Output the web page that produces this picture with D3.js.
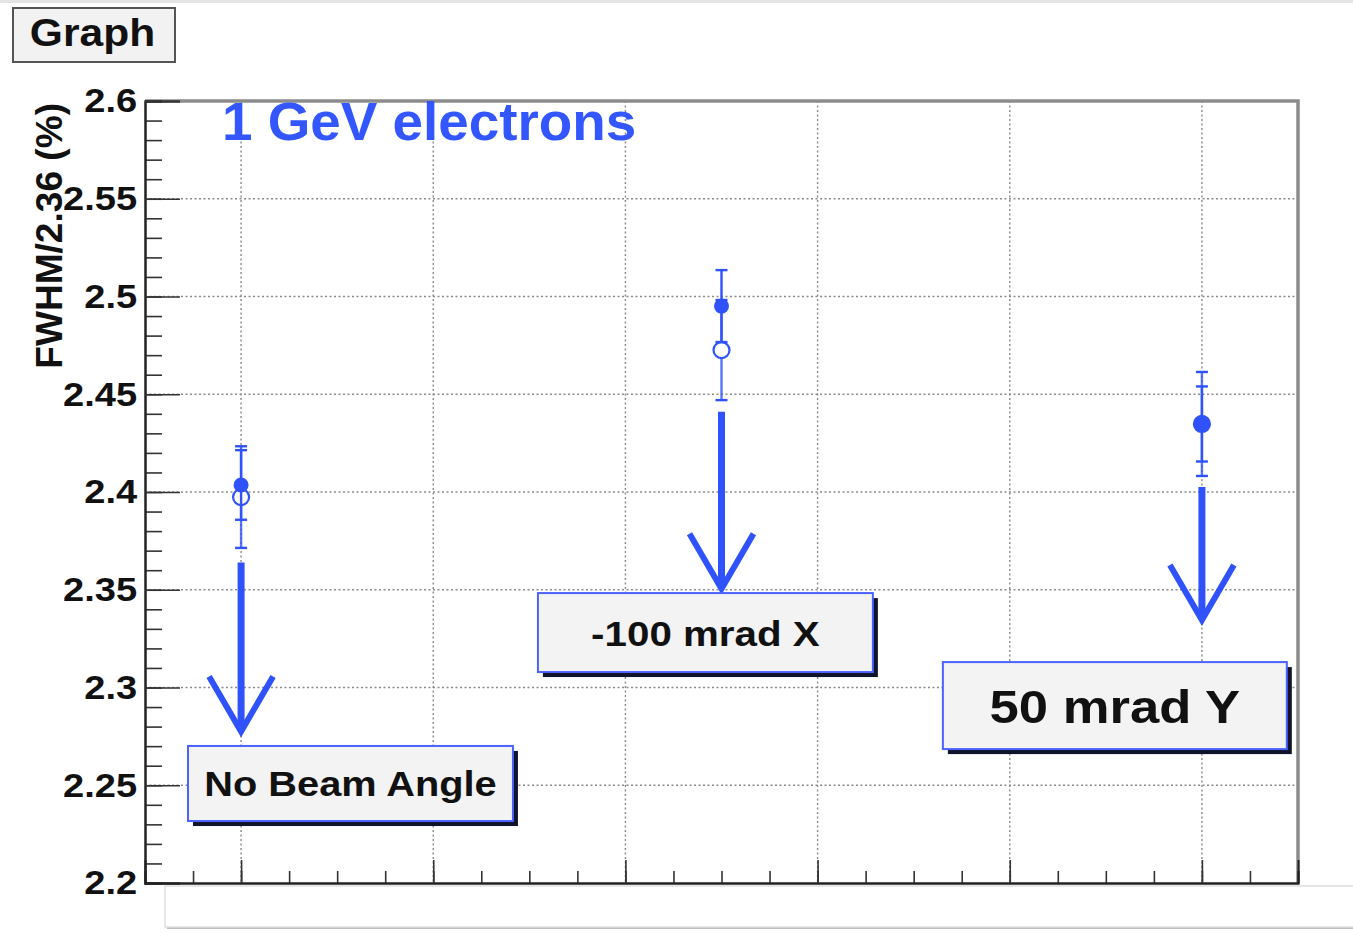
<!DOCTYPE html>
<html>
<head>
<meta charset="utf-8">
<script src="https://cdn.jsdelivr.net/npm/d3@7"></script>
<style>
  html, body { margin: 0; padding: 0; background: #ffffff; }
  svg { display: block; font-family: "Liberation Sans", Arial, Helvetica, sans-serif; }
</style>
</head>
<body>
<svg id="chart" width="1353" height="933"></svg>
<script>
// Beam angle settings (x position of each configuration)
const configs = [1, 2, 3];
const configLabels = ["No Beam Angle", "-100 mrad X", "50 mrad Y"];

// Filled markers: FWHM/2.36 (%) with errors
const filledValues = [2.4036, 2.4951, 2.4348];
const filledErrors = [0.0178, 0.0184, 0.0192];

// Open markers: FWHM/2.36 (%) with errors
const openValues = [2.3974, 2.4726, 2.4348];
const openErrors = [0.0260, 0.0256, 0.0266];

// Axis ticks
const yMajorTicks = [2.2, 2.25, 2.3, 2.35, 2.4, 2.45, 2.5, 2.55, 2.6];
const yMinorTicks = d3.range(220, 261, 1).map(v => v / 100);
const xMajorTicks = [1.0, 1.4, 1.8, 2.2, 2.6, 3.0];
const xMinorTicks = d3.range(8, 33, 1).map(v => v / 10);

// Arrow annotations: [x, yTop, yTip]
const arrowX = [1, 2, 3];
const arrowTop = [2.364, 2.441, 2.4026];
const arrowTip = [2.2775, 2.3505, 2.3345];

// Label boxes in axis coordinates: [x1, x2, yTop, yBottom]
const boxX1 = [0.8895, 1.6179, 2.4608];
const boxX2 = [1.5659, 2.3151, 3.1767];
const boxYTop = [2.2701, 2.3483, 2.3130];
const boxYBottom = [2.2317, 2.3079, 2.2685];
const boxFontSize = [35.5, 36, 47];

const BLUE = "#2f52fb";
const SX = 1.12; // horizontal stretch of the lettering
const svg = d3.select("#chart");

const x = d3.scaleLinear().domain([0.8, 3.2]).range([145, 1298]);
const y = d3.scaleLinear().domain([2.2, 2.6]).range([883, 101]);

function stretchedText(parent, px, py, sx) {
  return parent.append("text").attr("transform", `translate(${px},${py}) scale(${sx},1)`);
}

// canvas edge strip
svg.append("rect").attr("x", 0).attr("y", 0).attr("width", 1353).attr("height", 3).attr("fill", "#e4e4e4");

// title box
svg.append("rect").attr("x", 13).attr("y", 8).attr("width", 162).attr("height", 54)
  .attr("fill", "#f2f2f2").attr("stroke", "#555").attr("stroke-width", 2);
stretchedText(svg, 92.5, 46, SX).attr("text-anchor", "middle")
  .attr("font-size", 38).attr("font-weight", "bold").attr("fill", "#111").text("Graph");

// lower pave (partly outside the canvas)
svg.append("rect").attr("x", 167).attr("y", 889).attr("width", 1200).attr("height", 40)
  .attr("fill", "#bdbdbd");
svg.append("rect").attr("x", 165).attr("y", 886).attr("width", 1200).attr("height", 41)
  .attr("fill", "#ffffff").attr("stroke", "#e0e0e0").attr("stroke-width", 1.5);

// grid
const grid = svg.append("g").attr("stroke", "#8a8a8a").attr("stroke-width", 1.4)
  .attr("stroke-dasharray", "2,2.5");
grid.selectAll("line.v").data(xMajorTicks).join("line").attr("class", "v")
  .attr("x1", d => x(d)).attr("x2", d => x(d)).attr("y1", y(2.6)).attr("y2", y(2.2));
grid.selectAll("line.h").data(yMajorTicks.slice(1, -1)).join("line").attr("class", "h")
  .attr("x1", x(0.8)).attr("x2", x(3.2)).attr("y1", d => y(d)).attr("y2", d => y(d));

// frame top/right border
svg.append("path")
  .attr("d", `M${x(0.8)},${y(2.6)} H${x(3.2)} V${y(2.2)}`)
  .attr("fill", "none").attr("stroke", "#8c8c8c").attr("stroke-width", 3.5);

// axes
function styleAxis(g) {
  g.selectAll("path.domain").attr("stroke", "#222").attr("stroke-width", 2);
  g.selectAll(".tick line").attr("stroke", "#333").attr("stroke-width", 1.6);
}
const yMinor = svg.append("g").attr("transform", `translate(${x(0.8)},0)`)
  .call(d3.axisLeft(y).tickValues(yMinorTicks).tickSize(-17).tickFormat(""));
styleAxis(yMinor);
const yMajor = svg.append("g").attr("transform", `translate(${x(0.8)},0)`)
  .call(d3.axisLeft(y).tickValues(yMajorTicks).tickSize(-35).tickPadding(7)
    .tickFormat(d => String(+d.toFixed(2))));
styleAxis(yMajor);
yMajor.selectAll(".tick text").attr("font-size", 34).attr("font-weight", "bold")
  .attr("fill", "#111").attr("font-family", "Liberation Sans, Arial, sans-serif")
  .attr("transform", `scale(${SX},1)`);

const xMinor = svg.append("g").attr("transform", `translate(0,${y(2.2)})`)
  .call(d3.axisBottom(x).tickValues(xMinorTicks).tickSize(-12).tickFormat(""));
styleAxis(xMinor);
const xMajor = svg.append("g").attr("transform", `translate(0,${y(2.2)})`)
  .call(d3.axisBottom(x).tickValues(xMajorTicks).tickSize(-23).tickFormat(""));
styleAxis(xMajor);

// y axis title
svg.append("text").attr("transform", `translate(62,103) rotate(-90) scale(1.03,1.05)`)
  .attr("text-anchor", "end").attr("font-size", 36).attr("font-weight", "bold")
  .attr("fill", "#111").text("FWHM/2.36 (%)");

// headline
stretchedText(svg, 222, 140, 1.015).attr("font-size", 54)
  .attr("font-weight", "bold").attr("fill", "#3356ff").text("1 GeV electrons");

// arrows
const arrows = svg.append("g").attr("stroke", BLUE).attr("fill", "none");
configs.forEach((c, i) => {
  const ax = x(arrowX[i]);
  const tip = y(arrowTip[i]);
  arrows.append("line").attr("x1", ax).attr("x2", ax)
    .attr("y1", y(arrowTop[i])).attr("y2", tip - 3).attr("stroke-width", 7);
  arrows.append("path").attr("d", `M${ax - 32},${tip - 55} L${ax},${tip} L${ax + 32},${tip - 55}`)
    .attr("stroke-width", 6).attr("stroke-linejoin", "miter");
});

// error bars and markers
function drawSeries(values, errors, filled) {
  const g = svg.append("g");
  configs.forEach((c, i) => {
    const px = x(c);
    const lo = y(values[i] - errors[i]);
    const hi = y(values[i] + errors[i]);
    g.append("line").attr("x1", px).attr("x2", px).attr("y1", hi).attr("y2", lo)
      .attr("stroke", BLUE).attr("stroke-width", 2.4).attr("opacity", filled ? 1 : 0.8);
    [hi, lo].forEach(py => g.append("line").attr("x1", px - 6).attr("x2", px + 6)
      .attr("y1", py).attr("y2", py).attr("stroke", BLUE).attr("stroke-width", 2.4));
    if (filled) {
      g.append("circle").attr("cx", px).attr("cy", y(values[i])).attr("r", 7.5).attr("fill", BLUE);
    } else {
      g.append("circle").attr("cx", px).attr("cy", y(values[i])).attr("r", 8)
        .attr("fill", "#ffffff").attr("stroke", BLUE).attr("stroke-width", 2.2);
    }
  });
}
drawSeries(openValues, openErrors, false);
drawSeries(filledValues, filledErrors, true);

// label boxes with shadow
configs.forEach((c, i) => {
  const bx = x(boxX1[i]), bw = x(boxX2[i]) - x(boxX1[i]);
  const by = y(boxYTop[i]), bh = y(boxYBottom[i]) - y(boxYTop[i]);
  svg.append("rect").attr("x", bx + 5).attr("y", by + 5).attr("width", bw).attr("height", bh)
    .attr("fill", "#10132a");
  svg.append("rect").attr("x", bx).attr("y", by).attr("width", bw).attr("height", bh)
    .attr("fill", "#f3f3f3").attr("stroke", "#4a62ff").attr("stroke-width", 2);
  stretchedText(svg, bx + bw / 2, by + bh / 2, SX).attr("dy", "0.36em")
    .attr("text-anchor", "middle").attr("font-size", boxFontSize[i]).attr("font-weight", "bold")
    .attr("fill", "#111").text(configLabels[i]);
});
</script>
</body>
</html>
